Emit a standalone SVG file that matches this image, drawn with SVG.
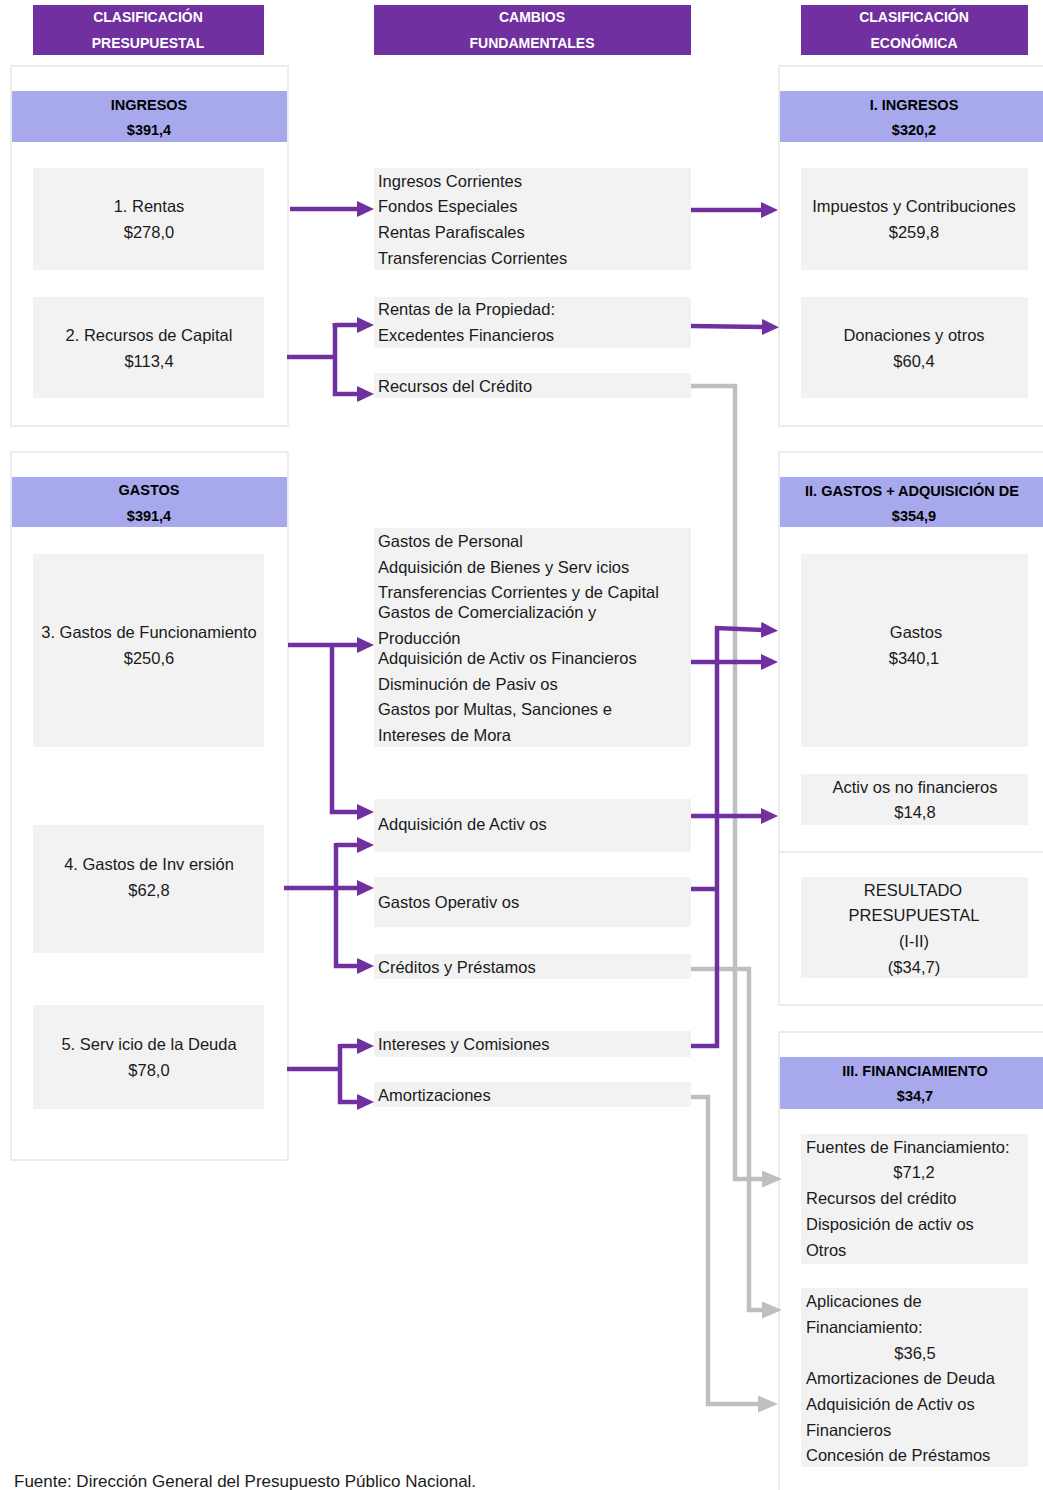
<svg xmlns="http://www.w3.org/2000/svg" width="1043" height="1490" viewBox="0 0 1043 1490">
<style>
.hdr{fill:#7030A0}
.hdrt{fill:#fff;font-family:"Liberation Sans",Arial,sans-serif;font-weight:bold;font-size:14px;text-anchor:middle}
.panel{fill:#fff;stroke:#ECECEC;stroke-width:2}
.band{fill:#A7A9EC}
.bandt{fill:#000;font-family:"Liberation Sans",Arial,sans-serif;font-weight:bold;font-size:14.5px;text-anchor:middle}
.box{fill:#F2F2F2}
.t{fill:#1a1a1a;font-family:"Liberation Sans",Arial,sans-serif;font-size:16.5px}
.c{text-anchor:middle}
.pl{fill:none;stroke:#7030A0;stroke-width:4.5}
.gl{fill:none;stroke:#BFBFBF;stroke-width:4.5}
</style>
<defs>
<marker id="ap" viewBox="0 0 17 16" refX="2" refY="8" markerWidth="17" markerHeight="16" markerUnits="userSpaceOnUse" orient="auto">
<path d="M0,0 L17,8 L0,16 Z" fill="#7030A0"/>
</marker>
<marker id="ag" viewBox="0 0 20 17" refX="2" refY="8.5" markerWidth="20" markerHeight="17" markerUnits="userSpaceOnUse" orient="auto">
<path d="M0,0 L20,8.5 L0,17 Z" fill="#BFBFBF"/>
</marker>
</defs>
<rect width="1043" height="1490" fill="#fff"/>

<!-- Headers -->
<g id="hdr-presupuestal"><rect class="hdr" x="33" y="5" width="231" height="50"/><text class="hdrt" x="148" y="22">CLASIFICACIÓN</text><text class="hdrt" x="148" y="48">PRESUPUESTAL</text></g>
<g id="hdr-cambios"><rect class="hdr" x="374" y="5" width="317" height="50"/><text class="hdrt" x="532" y="22">CAMBIOS</text><text class="hdrt" x="532" y="48">FUNDAMENTALES</text></g>
<g id="hdr-economica"><rect class="hdr" x="801" y="5" width="227" height="50"/><text class="hdrt" x="914" y="22">CLASIFICACIÓN</text><text class="hdrt" x="914" y="48">ECONÓMICA</text></g>

<!-- Left panels -->
<g id="panel-ingresos"><rect class="panel" x="11" y="66" width="277" height="360"/><rect class="band" x="12" y="91" width="275" height="51"/><text class="bandt" x="149" y="110">INGRESOS</text><text class="bandt" x="149" y="135">$391,4</text></g>
<g id="n-rentas"><rect class="box" x="33" y="168" width="231" height="102"/><text class="t c" x="149" y="212">1. Rentas</text><text class="t c" x="149" y="238">$278,0</text></g>
<g id="n-recursos-capital"><rect class="box" x="33" y="297" width="231" height="101"/><text class="t c" x="149" y="341">2. Recursos de Capital</text><text class="t c" x="149" y="367">$113,4</text></g>

<g id="panel-gastos"><rect class="panel" x="11" y="452" width="277" height="708"/><rect class="band" x="12" y="477" width="275" height="50"/><text class="bandt" x="149" y="495">GASTOS</text><text class="bandt" x="149" y="521">$391,4</text></g>
<g id="n-funcionamiento"><rect class="box" x="33" y="554" width="231" height="193"/><text class="t c" x="149" y="638">3. Gastos de Funcionamiento</text><text class="t c" x="149" y="664">$250,6</text></g>
<g id="n-inversion"><rect class="box" x="33" y="825" width="231" height="128"/><text class="t c" x="149" y="870">4. Gastos de Inv ersión</text><text class="t c" x="149" y="896">$62,8</text></g>
<g id="n-deuda"><rect class="box" x="33" y="1005" width="231" height="104"/><text class="t c" x="149" y="1050">5. Serv icio de la Deuda</text><text class="t c" x="149" y="1076">$78,0</text></g>

<!-- Middle boxes -->
<g id="m-ingresos-corrientes"><rect class="box" x="374" y="168" width="317" height="102"/>
<text class="t" x="378" y="187">Ingresos Corrientes</text><text class="t" x="378" y="212">Fondos Especiales</text><text class="t" x="378" y="238">Rentas Parafiscales</text><text class="t" x="378" y="264">Transferencias Corrientes</text></g>
<g id="m-rentas-propiedad"><rect class="box" x="374" y="297" width="317" height="51"/>
<text class="t" x="378" y="315">Rentas de la Propiedad:</text><text class="t" x="378" y="341">Excedentes Financieros</text></g>
<g id="m-recursos-credito"><rect class="box" x="374" y="373" width="317" height="25"/><text class="t" x="378" y="392">Recursos del Crédito</text></g>
<g id="m-gastos-personal"><rect class="box" x="374" y="528" width="317" height="219"/>
<text class="t" x="378" y="547">Gastos de Personal</text>
<text class="t" x="378" y="573">Adquisición de Bienes y Serv icios</text>
<text class="t" x="378" y="598">Transferencias Corrientes y de Capital</text>
<text class="t" x="378" y="618">Gastos de Comercialización y</text>
<text class="t" x="378" y="644">Producción</text>
<text class="t" x="378" y="664">Adquisición de Activ os Financieros</text>
<text class="t" x="378" y="690">Disminución de Pasiv os</text>
<text class="t" x="378" y="715">Gastos por Multas, Sanciones e</text>
<text class="t" x="378" y="741">Intereses de Mora</text></g>
<g id="m-adq-activos"><rect class="box" x="374" y="799" width="317" height="53"/><text class="t" x="378" y="830">Adquisición de Activ os</text></g>
<g id="m-gastos-operativos"><rect class="box" x="374" y="877" width="317" height="50"/><text class="t" x="378" y="908">Gastos Operativ os</text></g>
<g id="m-creditos"><rect class="box" x="374" y="954" width="317" height="25"/><text class="t" x="378" y="973">Créditos y Préstamos</text></g>
<g id="m-intereses"><rect class="box" x="374" y="1031" width="317" height="26"/><text class="t" x="378" y="1050">Intereses y Comisiones</text></g>
<g id="m-amortizaciones"><rect class="box" x="374" y="1082" width="317" height="25"/><text class="t" x="378" y="1101">Amortizaciones</text></g>

<!-- Right panels -->
<g id="panel-r-ingresos"><rect class="panel" x="779" y="66" width="270" height="360"/><rect class="band" x="780" y="91" width="263" height="51"/><text class="bandt" x="914" y="110">I. INGRESOS</text><text class="bandt" x="914" y="135">$320,2</text></g>
<g id="r-impuestos"><rect class="box" x="801" y="168" width="227" height="102"/><text class="t c" x="914" y="212">Impuestos y Contribuciones</text><text class="t c" x="914" y="238">$259,8</text></g>
<g id="r-donaciones"><rect class="box" x="801" y="297" width="227" height="101"/><text class="t c" x="914" y="341">Donaciones y otros</text><text class="t c" x="914" y="367">$60,4</text></g>

<g id="panel-r-gastos"><rect class="panel" x="779" y="452" width="270" height="400"/><rect class="band" x="780" y="477" width="263" height="50"/><text class="bandt" x="912" y="496">II. GASTOS + ADQUISICIÓN DE</text><text class="bandt" x="914" y="521">$354,9</text></g>
<g id="r-gastos"><rect class="box" x="801" y="554" width="227" height="193"/><text class="t c" x="916" y="638">Gastos</text><text class="t c" x="914" y="664">$340,1</text></g>
<g id="r-activos-nf"><rect class="box" x="801" y="774" width="227" height="51"/><text class="t c" x="915" y="793">Activ os no financieros</text><text class="t c" x="915" y="818">$14,8</text></g>

<g id="panel-r-resultado"><rect class="panel" x="779" y="852" width="270" height="153"/></g>
<g id="r-resultado"><rect class="box" x="801" y="877" width="227" height="101"/><text class="t c" x="913" y="896">RESULTADO</text><text class="t c" x="914" y="921">PRESUPUESTAL</text><text class="t c" x="914" y="947">(I-II)</text><text class="t c" x="914" y="973">($34,7)</text></g>

<g id="panel-r-financiamiento"><rect class="panel" x="779" y="1032" width="270" height="470"/><rect class="band" x="780" y="1057" width="263" height="52"/><text class="bandt" x="915" y="1076">III. FINANCIAMIENTO</text><text class="bandt" x="915" y="1101">$34,7</text></g>
<g id="r-fuentes"><rect class="box" x="801" y="1134" width="227" height="130"/>
<text class="t" x="806" y="1153">Fuentes de Financiamiento:</text><text class="t c" x="914" y="1178">$71,2</text><text class="t" x="806" y="1204">Recursos del crédito</text><text class="t" x="806" y="1230">Disposición de activ os</text><text class="t" x="806" y="1256">Otros</text></g>
<g id="r-aplicaciones"><rect class="box" x="801" y="1288" width="227" height="179"/>
<text class="t" x="806" y="1307">Aplicaciones de</text><text class="t" x="806" y="1333">Financiamiento:</text><text class="t c" x="915" y="1359">$36,5</text><text class="t" x="806" y="1384">Amortizaciones de Deuda</text><text class="t" x="806" y="1410">Adquisición de Activ os</text><text class="t" x="806" y="1436">Financieros</text><text class="t" x="806" y="1461">Concesión de Préstamos</text></g>

<!-- Connectors -->
<g id="connectors">
<polyline class="gl" points="691,386 735,386 735,1179 764,1179" marker-end="url(#ag)"/>
<polyline class="gl" points="691,969 749,969 749,1310 764,1310" marker-end="url(#ag)"/>
<polyline class="gl" points="691,1097 708,1097 708,1404 760,1404" marker-end="url(#ag)"/>
<line class="pl" x1="290" y1="209" x2="359" y2="209" marker-end="url(#ap)"/>
<line class="pl" x1="287" y1="357" x2="335" y2="357"/>
<polyline class="pl" points="335,323 335,325 359,325" marker-end="url(#ap)"/>
<polyline class="pl" points="335,323 335,394 359,394" marker-end="url(#ap)"/>
<line class="pl" x1="288" y1="645" x2="359" y2="645" marker-end="url(#ap)"/>
<polyline class="pl" points="332,643 332,812 359,812" marker-end="url(#ap)"/>
<line class="pl" x1="284" y1="888" x2="359" y2="888" marker-end="url(#ap)"/>
<polyline class="pl" points="336,845 359,845" marker-end="url(#ap)"/>
<polyline class="pl" points="336,843 336,966 359,966" marker-end="url(#ap)"/>
<line class="pl" x1="287" y1="1069" x2="340" y2="1069"/>
<polyline class="pl" points="340,1046 359,1046" marker-end="url(#ap)"/>
<polyline class="pl" points="340,1044 340,1102 359,1102" marker-end="url(#ap)"/>
<line class="pl" x1="691" y1="210" x2="763" y2="210" marker-end="url(#ap)"/>
<line class="pl" x1="691" y1="326" x2="764" y2="327" marker-end="url(#ap)"/>
<line class="pl" x1="691" y1="662" x2="763" y2="662" marker-end="url(#ap)"/>
<line class="pl" x1="691" y1="816" x2="763" y2="816" marker-end="url(#ap)"/>
<polyline class="pl" points="691,889 717,889"/>
<polyline class="pl" points="691,1046 717,1046 717,628 763,630" marker-end="url(#ap)"/>
</g>

<text class="t" x="14" y="1487" style="font-size:17px">Fuente: Dirección General del Presupuesto Público Nacional.</text>
</svg>
